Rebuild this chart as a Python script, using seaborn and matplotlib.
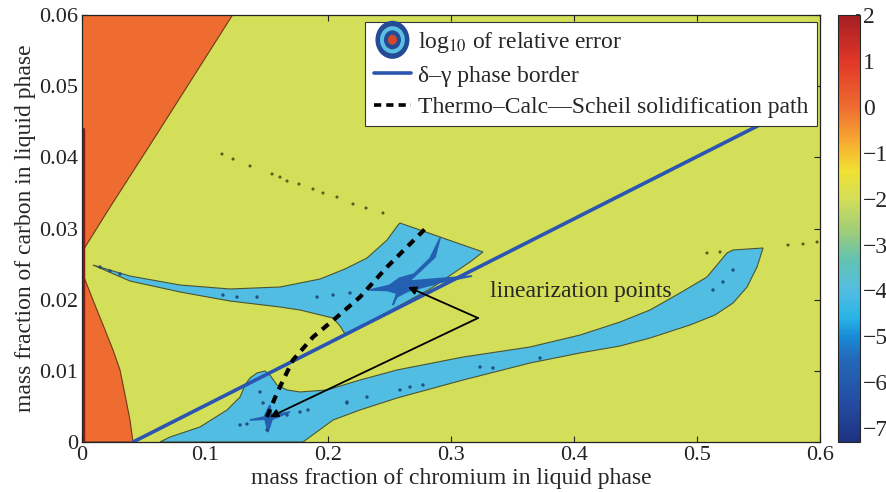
import matplotlib
matplotlib.use("Agg")
import matplotlib.pyplot as plt
from matplotlib.colors import LinearSegmentedColormap, Normalize
from matplotlib.cm import ScalarMappable
from matplotlib.legend_handler import HandlerBase
from matplotlib.lines import Line2D
from matplotlib.patches import Ellipse
import pandas as pd
import seaborn as sns

# colour scale of log10(relative error)
cbar_min, cbar_max = -7.3, 2.0
cbar_ticks = [-7, -6, -5, -4, -3, -2, -1, 0, 1, 2]
scale_values = [-7.3, -6.5, -5.5, -5.0, -4.6, -4.0, -3.3, -2.7, -2.0, -1.4, -0.8, 0.0, 1.0, 2.0]
scale_colors = ["#1e3282", "#234ba0", "#2369b9", "#198cd7", "#28b4e6", "#52bde3",
                "#64c3af", "#a0cd78", "#d4de58", "#f0e132", "#f8af32", "#ee6c30",
                "#e13728", "#a51e23"]

# contour levels of the filled regions
level_orange = 0.0
level_background = -2.0
level_light = -4.0
level_dark = -5.8

# region outlines (mass fraction Cr, mass fraction C)
orange_top_x = [0.0, 0.0, 0.0228, 0.0577, 0.1224]
orange_top_y = [0.06, 0.0267, 0.0330, 0.0424, 0.06]
orange_low_x = [0.0, 0.0, 0.0089, 0.0171, 0.0252, 0.0309, 0.0350, 0.0390, 0.0415]
orange_low_y = [0.0, 0.0239, 0.01995, 0.01644, 0.01293, 0.01012, 0.0066, 0.00309, 0.0]

upper_band_x = [0.0089, 0.0390, 0.0797, 0.1203, 0.1610, 0.1935, 0.2138, 0.2317, 0.2480,
                0.2569, 0.2585, 0.3260, 0.3154, 0.2829, 0.2561, 0.2285, 0.2138, 0.2098,
                0.2041, 0.1772, 0.1610, 0.1203, 0.0797, 0.0390]
upper_band_y = [0.02487, 0.02332, 0.02206, 0.02150, 0.02178, 0.02290, 0.02431, 0.02585, 0.02838,
                0.03049, 0.03077, 0.02670, 0.02529, 0.02150, 0.01897, 0.01630, 0.01518, 0.01630,
                0.01742, 0.01855, 0.01897, 0.01981, 0.02108, 0.02262]

lower_band_x = [0.0634, 0.0715, 0.0959, 0.1179, 0.1285, 0.1325, 0.1366, 0.1423, 0.1488,
                0.1528, 0.1585, 0.1667, 0.1772, 0.1992, 0.2260, 0.2561, 0.3098, 0.3642,
                0.4049, 0.4374, 0.4618, 0.4862, 0.5081, 0.5244, 0.5293, 0.5537, 0.5488,
                0.5407, 0.5293, 0.5146, 0.4943, 0.4618, 0.4374, 0.4049, 0.3642, 0.3098,
                0.2561, 0.2260, 0.2041, 0.1797]
lower_band_y = [0.0, 0.00070, 0.00211, 0.00450, 0.00632, 0.00801, 0.00899, 0.00970, 0.00998,
                0.00941, 0.00801, 0.00731, 0.00703, 0.00731, 0.00871, 0.01012, 0.01194, 0.01335,
                0.01503, 0.01686, 0.01855, 0.02094, 0.02318, 0.02656, 0.02698, 0.02726, 0.02459,
                0.02178, 0.01953, 0.01784, 0.01644, 0.01461, 0.01349, 0.01251, 0.01110, 0.00871,
                0.00618, 0.00450, 0.00309, 0.0]

# dark minimum around the linearization points (star shapes)
star_upper_x = [0.2341, 0.2500, 0.2580, 0.2700, 0.2830, 0.2911, 0.2870, 0.2760, 0.2660,
                0.2935, 0.3171, 0.2935, 0.2650, 0.2560, 0.2528, 0.2560, 0.2480]
star_upper_y = [0.02136, 0.02200, 0.02300, 0.02360, 0.02580, 0.02866, 0.02600, 0.02420, 0.02260,
                0.02300, 0.02332, 0.02250, 0.02120, 0.02040, 0.01925, 0.02090, 0.02130]
star_lower_x = [0.1366, 0.1480, 0.1528, 0.1540, 0.1691, 0.1545, 0.1512, 0.1490, 0.1480]
star_lower_y = [0.00309, 0.00350, 0.00520, 0.00370, 0.00422, 0.00320, 0.00140, 0.00310, 0.00320]

# delta-gamma phase border and Scheil path
border_x = [0.0415, 0.556]
border_y = [0.0, 0.045]
scheil_x = [0.1504, 0.1585, 0.1715, 0.1878, 0.2073, 0.2260, 0.2480, 0.2642, 0.2805]
scheil_y = [0.00351, 0.00688, 0.01152, 0.01475, 0.01756, 0.02037, 0.02459, 0.02740, 0.03021]

# linearization points and label
lin_x = [0.2650, 0.1528]
lin_y = [0.02178, 0.00351]
label_x, label_y = 0.322, 0.01742

# stray contour dots
olive_dots_x = [0.1138, 0.1228, 0.1366, 0.1545, 0.1610, 0.1667, 0.1764, 0.1878, 0.1959,
                0.2073, 0.2203, 0.2309, 0.2447, 0.5081, 0.5187, 0.5740, 0.5862, 0.5976]
olive_dots_y = [0.04047, 0.03976, 0.03878, 0.03766, 0.03723, 0.03667, 0.03625, 0.03555, 0.03499,
                0.03442, 0.03344, 0.03288, 0.03218, 0.02656, 0.02670, 0.02768, 0.02782, 0.02810]
blue_dots_x = [0.0146, 0.0228, 0.0309, 0.1146, 0.1260, 0.1423, 0.1911, 0.2041, 0.2179,
               0.2154, 0.2317, 0.2585, 0.2667, 0.2772, 0.3236, 0.3341, 0.3724, 0.5130,
               0.5211, 0.5293, 0.1285, 0.1341, 0.1667, 0.1772, 0.1837, 0.2154, 0.1447,
               0.1472, 0.1504]
blue_dots_y = [0.02459, 0.02403, 0.02361, 0.02065, 0.02037, 0.02037, 0.02037, 0.02065, 0.02094,
               0.00548, 0.00632, 0.00731, 0.00773, 0.00801, 0.01054, 0.01040, 0.01180, 0.02136,
               0.02248, 0.02417, 0.00239, 0.00253, 0.00379, 0.00422, 0.00450, 0.00562, 0.00703,
               0.00548, 0.00169]

sns.set_theme(style="ticks")
plt.rcParams["font.family"] = ["Liberation Serif", "DejaVu Serif"]
plt.rcParams["mathtext.fontset"] = "stix"
plt.rcParams["font.size"] = 17

norm = Normalize(cbar_min, cbar_max)
cmap = LinearSegmentedColormap.from_list(
    "err", [(norm(v), c) for v, c in zip(scale_values, scale_colors)])

fig = plt.figure(figsize=(8.87, 4.92), dpi=100)
ax = fig.add_axes([82 / 887, 50 / 492, 738 / 887, 427 / 492])
cax = fig.add_axes([838 / 887, 50 / 492, 22 / 887, 427 / 492])

ax.set_facecolor(cmap(norm(level_background)))
edge = "#4a5530"
ax.fill(orange_top_x, orange_top_y, facecolor=cmap(norm(level_orange)), edgecolor="#6a3a18", lw=0.8)
ax.fill(orange_low_x, orange_low_y, facecolor=cmap(norm(level_orange)), edgecolor="#6a3a18", lw=0.8)
ax.plot([0.0008, 0.0008], [0.0, 0.044], color="#8a1a1a", lw=2.5)
ax.fill(upper_band_x, upper_band_y, facecolor=cmap(norm(level_light)), edgecolor=edge, lw=0.8)
ax.fill(lower_band_x, lower_band_y, facecolor=cmap(norm(level_light)), edgecolor=edge, lw=0.8)
dark = cmap(norm(level_dark))
ax.fill(star_upper_x, star_upper_y, facecolor=dark, edgecolor=dark, lw=1.2)
ax.fill(star_lower_x, star_lower_y, facecolor=dark, edgecolor=dark, lw=1.2)

sns.scatterplot(x=olive_dots_x, y=olive_dots_y, s=5, color="#5e5a1e", edgecolor="none", ax=ax)
sns.scatterplot(x=blue_dots_x, y=blue_dots_y, s=6, color="#23507f", edgecolor="none", ax=ax)

df_border = pd.DataFrame({"x": border_x, "y": border_y})
sns.lineplot(data=df_border, x="x", y="y", sort=False, estimator=None,
             color="#2a55b0", lw=2.6, ax=ax)
ax.plot(scheil_x, scheil_y, color="black", lw=3.0, dashes=(2.0, 1.6), solid_capstyle="butt")

for px, py in zip(lin_x, lin_y):
    ax.annotate("", xy=(px, py), xytext=(label_x, label_y),
                arrowprops=dict(arrowstyle="-|>", color="black", lw=1.3,
                                shrinkA=0, shrinkB=0, mutation_scale=12))
ax.text(0.332, 0.0211, "linearization points", fontsize=17, va="center", ha="left")

ax.set_xlim(0, 0.6)
ax.set_ylim(0, 0.06)
ax.set_xticks([0, 0.1, 0.2, 0.3, 0.4, 0.5, 0.6])
ax.set_xticklabels(["0", "0.1", "0.2", "0.3", "0.4", "0.5", "0.6"])
ax.set_yticks([0, 0.01, 0.02, 0.03, 0.04, 0.05, 0.06])
ax.set_yticklabels(["0", "0.01", "0.02", "0.03", "0.04", "0.05", "0.06"])
ax.tick_params(direction="in", top=True, right=True, length=4, width=0.8,
               labelsize=16, pad=3, colors="#222222")
for s in ax.spines.values():
    s.set_linewidth(0.9)
    s.set_color("#222222")
ax.set_xlabel("mass fraction of chromium in liquid phase", fontsize=17)
ax.set_ylabel("mass fraction of carbon in liquid phase", fontsize=17)
ax.xaxis.set_label_coords(0.5, -0.062)
ax.yaxis.set_label_coords(-0.062, 0.5)


class ErrorKey:
    pass


class ErrorKeyHandler(HandlerBase):
    def create_artists(self, legend, orig_handle, xdescent, ydescent, width, height, fontsize, trans):
        cx = 0.5 * width - xdescent
        cy = 0.5 * height - ydescent
        rings = [(0.9, 2.3, "#234b96"), (0.66, 1.65, "#5bbfe0"), (0.45, 1.15, "#234b96"),
                 (0.24, 0.6, "#d24a2a")]
        return [Ellipse((cx, cy), width * w, height * h, facecolor=c, edgecolor="none", transform=trans)
                for w, h, c in rings]


handles = [ErrorKey(),
           Line2D([], [], color="#2a55b0", lw=2.6),
           Line2D([], [], color="black", lw=2.6, dashes=(2.0, 1.4))]
labels = ["log$_{10}$ of relative error", "δ–γ phase border", "Thermo–Calc—Scheil solidification path"]
leg = ax.legend(handles, labels, handler_map={ErrorKey: ErrorKeyHandler()}, loc="upper right",
                bbox_to_anchor=(0.996, 0.984), fontsize=17, frameon=True, fancybox=False,
                framealpha=1, edgecolor="#333333", borderpad=0.35, labelspacing=0.42,
                handlelength=1.6, handletextpad=0.3, borderaxespad=0)
leg.get_frame().set_linewidth(0.8)

cb = fig.colorbar(ScalarMappable(norm=norm, cmap=cmap), cax=cax, ticks=cbar_ticks)
cb.ax.set_yticklabels([str(t).replace("-", "\u2212") for t in cbar_ticks])
cb.ax.tick_params(direction="in", length=3, labelsize=17, pad=2)
cb.outline.set_linewidth(0.8)

fig.savefig("out.png", dpi=100)
